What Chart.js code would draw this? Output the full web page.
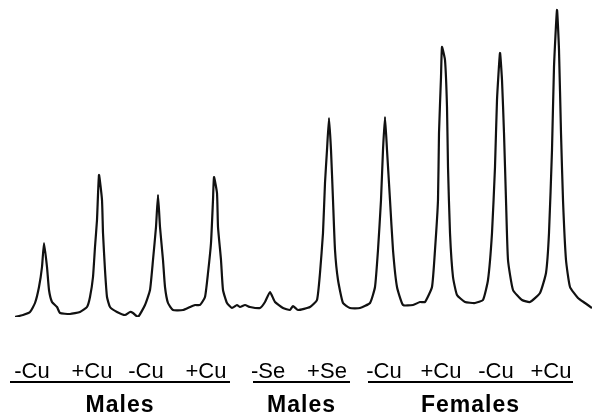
<!DOCTYPE html>
<html>
<head>
<meta charset="utf-8">
<script src="https://cdn.jsdelivr.net/npm/chart.js@4"></script>
<style>
  html, body { margin: 0; padding: 0; background: #fff; }
  #wrap { width: 600px; height: 416px; position: relative; }
</style>
</head>
<body>
<div id="wrap"><canvas id="myChart"></canvas></div>
<script>
// densitometer scan: position along the blot vs. optical density (relative units)
var scanPosition = [
  0, 8, 15, 20, 24, 27, 29, 32, 34, 37, 42, 45, 55, 65, 72, 75, 78, 80, 82, 84,
  87, 88, 90, 92, 95, 102, 110, 115, 118, 123, 130, 135, 138, 141, 143, 145, 148, 150, 153, 158,
  168, 175, 180, 185, 190, 193, 196, 198, 199, 202, 203, 206, 208, 212, 217, 222, 225, 230, 235, 245,
  250, 255, 260, 268, 275, 278, 283, 295, 302, 305, 308, 310, 312, 314, 316, 318, 320, 323, 328, 335,
  345, 355, 360, 363, 366, 368, 370, 372, 375, 378, 382, 388, 398, 405, 410, 417, 420, 423, 424, 426,
  427, 430, 432, 433, 435, 438, 442, 450, 460, 468, 473, 477, 480, 482, 485, 487, 489, 491, 493, 498,
  507, 515, 525, 531, 534, 537, 539, 542, 544, 546, 548, 551, 555, 563, 570, 577
];
var density = [
  0, 2, 5, 14, 30, 50, 74, 50, 27, 15, 10, 4, 3, 5, 10, 20, 40, 70, 97, 142,
  117, 84, 47, 20, 10, 5, 2, 5, 4, 0, 12, 27, 57, 90, 122, 90, 57, 30, 14, 7,
  7, 10, 12, 12, 20, 44, 74, 117, 140, 124, 90, 57, 27, 14, 9, 12, 10, 12, 10, 9,
  15, 25, 15, 9, 7, 11, 7, 10, 17, 44, 84, 134, 167, 199, 167, 117, 67, 37, 14, 9,
  9, 14, 30, 67, 117, 167, 200, 167, 117, 67, 30, 12, 12, 15, 15, 30, 67, 117, 184, 240,
  270, 257, 210, 150, 84, 40, 22, 15, 14, 17, 37, 84, 150, 217, 264, 237, 184, 117, 57, 27,
  17, 15, 24, 44, 84, 167, 250, 307, 267, 184, 117, 57, 30, 19, 14, 9
];

// lane labels under the trace
var laneLabels = ['-Cu', '+Cu', '-Cu', '+Cu', '-Se', '+Se', '-Cu', '+Cu', '-Cu', '+Cu'];
var laneAt = [17, 77, 131, 191, 253, 312, 369, 426, 481, 536];
var groupLabels = ['Males', 'Males', 'Females'];
var groupFrom = [-5, 238, 353];
var groupTo = [215, 335, 558];

var points = scanPosition.map(function (x, i) { return { x: x, y: density[i] }; });

// lane and group text below the trace
var laneText = {
  id: 'laneText',
  afterDraw: function (chart) {
    var c = chart.ctx;
    var xs = chart.scales.x;
    var base = chart.chartArea.bottom;
    c.save();
    c.fillStyle = '#000';
    c.strokeStyle = '#000';
    c.textAlign = 'center';
    c.textBaseline = 'alphabetic';
    c.font = '22px "Liberation Sans", Arial, sans-serif';
    laneLabels.forEach(function (t, i) {
      c.fillText(t, xs.getPixelForValue(laneAt[i]), base + 61);
    });
    c.lineWidth = 2;
    c.font = 'bold 23px "Liberation Sans", Arial, sans-serif';
    if ('letterSpacing' in c) c.letterSpacing = '1px';
    groupLabels.forEach(function (t, i) {
      var a = xs.getPixelForValue(groupFrom[i]);
      var b = xs.getPixelForValue(groupTo[i]);
      c.beginPath();
      c.moveTo(a, base + 65);
      c.lineTo(b, base + 65);
      c.stroke();
      c.fillText(t, (a + b) / 2, base + 95);
    });
    c.restore();
  }
};

var ctx = document.getElementById('myChart').getContext('2d');
var myChart = new Chart(ctx, {
  type: 'line',
  data: {
    datasets: [{
      label: 'Densitometer scan',
      data: points,
      borderColor: '#111',
      borderWidth: 2.2,
      pointRadius: 0,
      tension: 0.15,
      fill: false
    }]
  },
  options: {
    responsive: true,
    maintainAspectRatio: false,
    animation: false,
    layout: { padding: { left: 15, right: 8, top: 7, bottom: 99 } },
    scales: {
      x: { type: 'linear', min: 0, max: 577, display: false },
      y: { min: 0, max: 310, display: false }
    },
    plugins: {
      legend: { display: false },
      tooltip: { enabled: false }
    }
  },
  plugins: [laneText]
});
</script>
</body>
</html>
